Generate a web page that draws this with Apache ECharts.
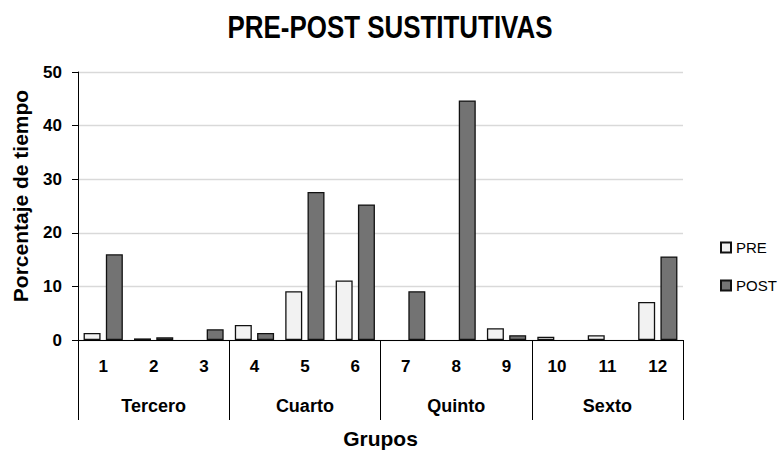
<!DOCTYPE html>
<html>
<head>
<meta charset="utf-8">
<script src="https://cdn.jsdelivr.net/npm/echarts@6/dist/echarts.min.js"></script>
<style>
  html, body { margin: 0; padding: 0; background: #ffffff; }
  #chart { width: 782px; height: 454px; }
</style>
</head>
<body>
<div id="chart"></div>
<script>
// Grupos (numbered) and the school year each one belongs to
const categories = ['1', '2', '3', '4', '5', '6', '7', '8', '9', '10', '11', '12'];
const groups = ['Tercero', 'Cuarto', 'Quinto', 'Sexto'];

// Percentage of time before and after
const preValues  = [1.3, 0.3, 0, 2.8, 9.1, 11.1, 0, 0, 2.2, 0.6, 0.9, 7.1];
const postValues = [16.0, 0.5, 2.0, 1.3, 27.6, 25.3, 9.1, 44.7, 0.9, 0, 0, 15.6];

const yTicks = { min: 0, max: 50, interval: 10 };

const FONT = '"Liberation Sans", Arial, sans-serif';

// Zero-height bars get no outline so nothing is stroked along the baseline
function barItems(values) {
  return values.map(function (v) {
    return v === 0 ? { value: v, itemStyle: { borderWidth: 0 } } : v;
  });
}

const chart = echarts.init(document.getElementById('chart'), null, { renderer: 'svg' });

chart.setOption({
  backgroundColor: '#ffffff',
  animation: false,
  textStyle: { fontFamily: FONT },
  grid: { left: 78, right: 99, top: 72, bottom: 112, containLabel: false },
  legend: {
    orient: 'vertical',
    left: 715,
    top: 235,
    padding: 5,
    itemWidth: 10,
    itemHeight: 10,
    itemGap: 23,
    icon: 'rect',
    textStyle: { fontFamily: FONT, fontSize: 15, color: '#000000' },
    data: ['PRE', 'POST']
  },
  xAxis: [
    {
      type: 'category',
      data: categories,
      position: 'bottom',
      axisLine: { show: true, lineStyle: { color: '#000000', width: 1 } },
      axisTick: { show: false },
      axisLabel: {
        margin: 18,
        fontFamily: FONT,
        fontSize: 17,
        fontWeight: 'bold',
        color: '#000000'
      },
      splitLine: { show: false }
    },
    {
      type: 'category',
      data: groups,
      position: 'bottom',
      boundaryGap: true,
      axisLine: { show: false },
      axisTick: {
        show: true,
        length: 80,
        inside: false,
        lineStyle: { color: '#000000', width: 1 }
      },
      axisLabel: {
        margin: 57,
        fontFamily: FONT,
        fontSize: 18,
        fontWeight: 'bold',
        color: '#000000'
      },
      name: 'Grupos',
      nameLocation: 'middle',
      nameGap: 88,
      nameTextStyle: {
        fontFamily: FONT,
        fontSize: 21,
        fontWeight: 'bold',
        color: '#000000'
      },
      splitLine: { show: false }
    }
  ],
  yAxis: {
    type: 'value',
    min: yTicks.min,
    max: yTicks.max,
    interval: yTicks.interval,
    axisLine: { show: true, lineStyle: { color: '#000000', width: 1 } },
    axisTick: { show: true, length: 6, inside: false, lineStyle: { color: '#000000', width: 1 } },
    axisLabel: {
      margin: 16,
      fontFamily: FONT,
      fontSize: 17,
      fontWeight: 'bold',
      color: '#000000'
    },
    splitLine: { show: true, lineStyle: { color: '#d9d9d9', width: 1.4 } }
  },
  series: [
    {
      name: 'PRE',
      type: 'bar',
      xAxisIndex: 0,
      data: barItems(preValues),
      barWidth: 17,
      barGap: '31%',
      itemStyle: { color: '#f2f2f2', borderColor: '#111111', borderWidth: 1.3 }
    },
    {
      name: 'POST',
      type: 'bar',
      xAxisIndex: 0,
      data: barItems(postValues),
      barWidth: 17,
      barGap: '31%',
      itemStyle: { color: '#737373', borderColor: '#111111', borderWidth: 1.3 }
    }
  ],
  graphic: [
    {
      type: 'text',
      x: 390,
      y: 27,
      scaleX: 0.81,
      style: {
        text: 'PRE-POST SUSTITUTIVAS',
        font: 'bold 32px ' + FONT,
        fill: '#000000',
        align: 'center',
        verticalAlign: 'middle'
      }
    },
    {
      type: 'text',
      x: 20,
      y: 196,
      rotation: Math.PI / 2,
      style: {
        text: 'Porcentaje de tiempo',
        font: 'bold 21px ' + FONT,
        fill: '#000000',
        align: 'center',
        verticalAlign: 'middle'
      }
    }
  ]
});
</script>
</body>
</html>
